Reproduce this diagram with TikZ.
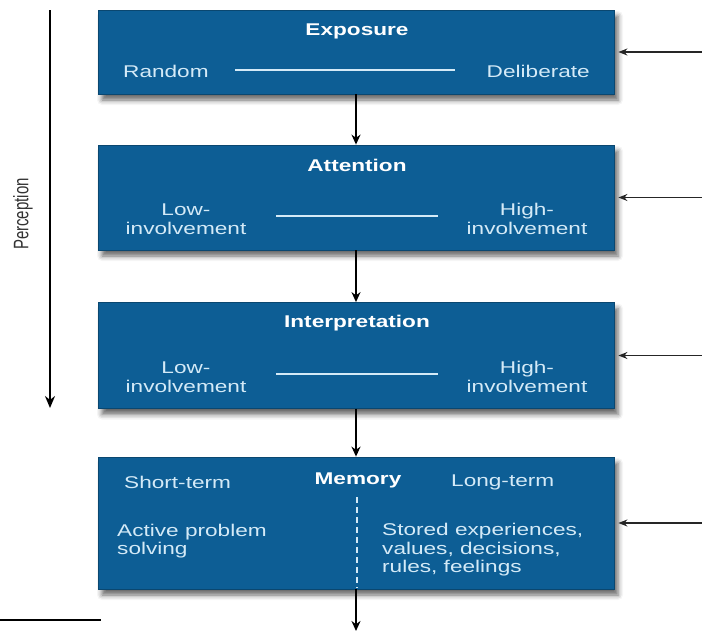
\documentclass[tikz,border=0pt]{standalone}
\usepackage{fontspec}
\setmainfont{Liberation Sans}
\newfontfamily\widesans{Liberation Sans}[FakeStretch=1.33]
\usetikzlibrary{arrows.meta,shadows.blur}
\definecolor{boxblue}{HTML}{0D5E95}
\definecolor{boxedge}{HTML}{0A4770}
\definecolor{boxtext}{HTML}{D4EAF7}
\definecolor{labelgray}{HTML}{333333}
\begin{document}
\begin{tikzpicture}[x=1pt,y=-1pt,
  stage/.style={draw=boxedge, line width=0.8pt, fill=boxblue, minimum width=516pt,
    inner sep=0pt, blur shadow={shadow xshift=4pt, shadow yshift=-6pt,
    shadow blur radius=5pt, shadow opacity=60}},
  title/.style={font=\widesans\bfseries\fontsize{17}{18}\selectfont, text=white, inner sep=0pt},
  label/.style={font=\widesans\fontsize{17}{18.5}\selectfont, text=boxtext, inner sep=0pt},
  scaleline/.style={draw=boxtext, line width=1.4pt},
  flow/.style={draw=black, line width=2.3pt, -{Stealth[length=10pt,width=9pt]}},
  feed/.style={draw=black!85, line width=1.8pt, -{Stealth[length=9pt,width=7pt]}, shorten >=4pt},
  percep/.style={draw=black, line width=2.6pt, -{Stealth[length=12pt,width=10pt]}}]
\useasboundingbox (0,0) rectangle (702,632);

% the four stages
\node[stage, minimum height=84pt]  (exp) at (356,52)    {};
\node[stage, minimum height=105pt] (att) at (356,197.5) {};
\node[stage, minimum height=106pt] (int) at (356,355.5) {};
\node[stage, minimum height=132pt] (mem) at (356,523)   {};

% Exposure
\node[title] (expT) at (357,31) {Exposure};
\node[label, anchor=west] (expL) at (123,71) {Random};
\node[label, anchor=east] (expR) at (590,71) {Deliberate};
\coordinate (expA) at (235,70);
\coordinate (expB) at (455,70);
\draw[scaleline] (expA) -- (expB);

% Attention
\node[title] (attT) at (357,165) {Attention};
\node[label, align=center] (attL) at (186,219) {Low-\\involvement};
\node[label, align=center] (attR) at (527,219) {High-\\involvement};
\coordinate (attA) at (276,216);
\coordinate (attB) at (438,216);
\draw[scaleline] (attA) -- (attB);

% Interpretation
\node[title] (intT) at (357,323) {Interpretation};
\node[label, align=center] (intL) at (186,377) {Low-\\involvement};
\node[label, align=center] (intR) at (527,377) {High-\\involvement};
\coordinate (intA) at (276,374);
\coordinate (intB) at (438,374);
\draw[scaleline] (intA) -- (intB);

% Memory
\node[title] (memT) at (358,480) {Memory};
\node[label, anchor=west] (memS) at (124,482) {Short-term};
\node[label, anchor=west] (memLg) at (451,482) {Long-term};
\node[label, anchor=west, align=left] (memA) at (117,541) {Active problem\\solving};
\node[label, anchor=west, align=left] (memB) at (382,550) {Stored experiences,\\values, decisions,\\rules, feelings};
\coordinate (divA) at (357,497);
\coordinate (divB) at (357,588);
\draw[boxtext, line width=1.3pt, dash pattern=on 6pt off 4pt] (divA) -- (divB);

% flow between stages
\draw[flow] (exp.south) -- (att.north);
\draw[flow] (att.south) -- (int.north);
\draw[flow] (int.south) -- (mem.north);
\coordinate (out) at (356,631);
\draw[flow] (mem.south) -- (out);

% inputs from the right
\coordinate (edge) at (702,0);
\draw[feed] (exp.east -| edge) -- (exp.east);
\draw[feed] (att.east -| edge) -- (att.east);
\draw[feed] (int.east -| edge) -- (int.east);
\draw[feed] (mem.east -| edge) -- (mem.east);

% perception span
\coordinate (pTop) at (50,10);
\coordinate (pBot) at (50,408);
\draw[percep] (pTop) -- (pBot);
\node[rotate=90, text=labelgray, font=\fontsize{15}{16}\selectfont, inner sep=0pt] (pLab) at (23,214) {\scalebox{1}[1.4]{Perception}};

% rule at the lower left
\coordinate (rA) at (0,620);
\coordinate (rB) at (101,620);
\draw[line width=2pt] (rA) -- (rB);
\end{tikzpicture}
\end{document}
